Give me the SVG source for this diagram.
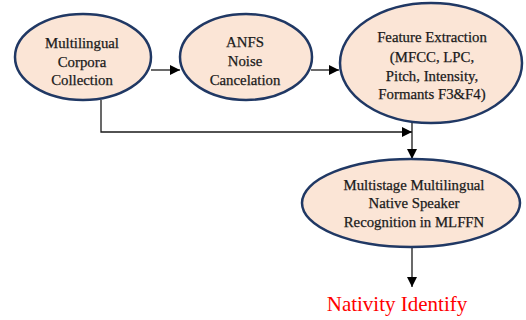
<svg xmlns="http://www.w3.org/2000/svg" width="526" height="320" viewBox="0 0 526 320">
<style>
.node ellipse{fill:#FBE5D6;stroke:#203864;stroke-width:2.5}
.node text{font-family:"Liberation Serif","Times New Roman",serif;font-size:14.8px;fill:#1a1a1a;stroke:#1a1a1a;stroke-width:0.25;text-anchor:middle}
.conn line,.conn polyline{stroke:#1a1a1a;stroke-width:1.3;fill:none}
.out{font-family:"Liberation Serif","Times New Roman",serif;font-size:21px;fill:#ff0000;text-anchor:middle}
</style>
<defs>
<marker id="ah" viewBox="0 0 10 10" refX="10" refY="5" markerWidth="10" markerHeight="10" markerUnits="userSpaceOnUse" orient="auto">
<path d="M0,0 L10,5 L0,10 z" fill="#000"/>
</marker>
</defs>
<rect width="526" height="320" fill="#fff"/>
<g class="conn">
<line x1="151" y1="70" x2="180" y2="70" marker-end="url(#ah)"/>
<line x1="311" y1="70" x2="339" y2="70" marker-end="url(#ah)"/>
<polyline points="101,100 101,132 412,132" marker-end="url(#ah)"/>
<line x1="412" y1="122" x2="412" y2="159" marker-end="url(#ah)"/>
<line x1="412" y1="248" x2="412" y2="287" marker-end="url(#ah)"/>
</g>
<g id="n1" class="node">
<ellipse cx="83" cy="57" rx="68" ry="43"/>
<text x="82" y="48">Multilingual</text>
<text x="82" y="67">Corpora</text>
<text x="82" y="85">Collection</text>
</g>
<g id="n2" class="node">
<ellipse cx="246" cy="57" rx="66" ry="43"/>
<text x="245" y="47">ANFS</text>
<text x="245" y="66">Noise</text>
<text x="245" y="85">Cancelation</text>
</g>
<g id="n3" class="node">
<ellipse cx="431" cy="63" rx="91" ry="60"/>
<text x="432" y="42">Feature Extraction</text>
<text x="432" y="62">(MFCC, LPC,</text>
<text x="432" y="81">Pitch, Intensity,</text>
<text x="432" y="99">Formants F3&amp;F4)</text>
</g>
<g id="n4" class="node">
<ellipse cx="411" cy="203" rx="109" ry="44"/>
<text x="414" y="190">Multistage Multilingual</text>
<text x="414" y="208">Native Speaker</text>
<text x="414" y="227">Recognition in MLFFN</text>
</g>
<text id="out" class="out" x="397" y="311">Nativity Identify</text>
</svg>
